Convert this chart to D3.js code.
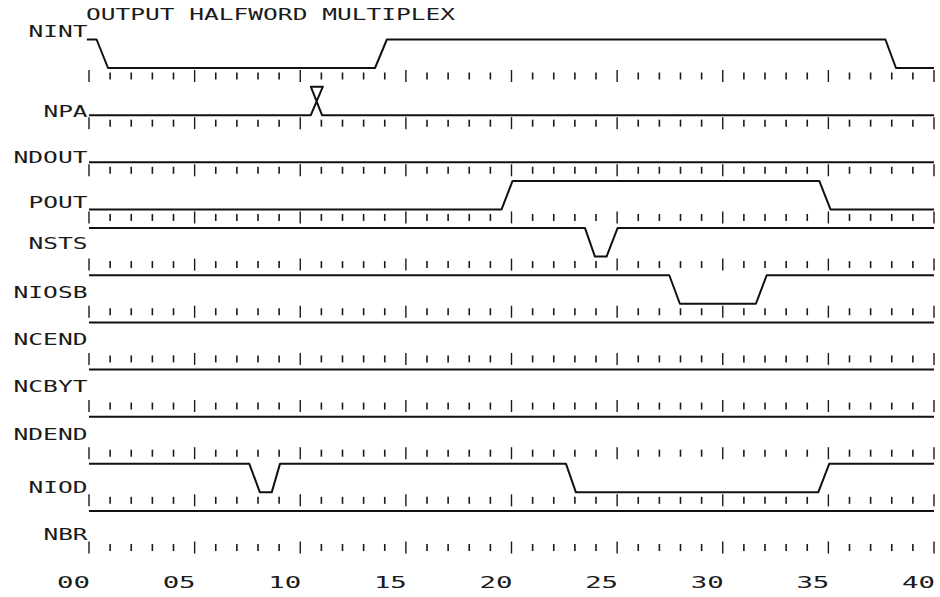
<!DOCTYPE html>
<html>
<head>
<meta charset="utf-8">
<script src="https://cdn.jsdelivr.net/npm/d3@7"></script>
<style>
  html, body { margin: 0; padding: 0; background: #fff; }
  svg { display: block; }
  text { font-family: "DejaVu Sans Mono", "Liberation Mono", monospace; fill: #1a1a1a; }
</style>
</head>
<body>
<svg id="chart" width="940" height="597"></svg>
<script>
// ---------------- data ----------------
const title = "OUTPUT HALFWORD MULTIPLEX";
const signals = ["NINT", "NPA", "NDOUT", "POUT", "NSTS", "NIOSB", "NCEND", "NCBYT", "NDEND", "NIOD", "NBR"];
const timeTicks = d3.range(0, 41);            // one tick per time unit
const timeLabels = ["00", "05", "10", "15", "20", "25", "30", "35", "40"];
const labelTimes = [0, 5, 10, 15, 20, 25, 30, 35, 40];

// waveforms: [time, level]  (1 = high, 0 = low)
const nint  = [[-0.1, 1], [0.36, 1], [0.9, 0], [13.54, 0], [14.1, 1], [37.7, 1], [38.2, 0], [40, 0]];
const npa   = [[0, 0], [10.5, 0], [11.07, 1], [10.5, 1], [11.03, 0], [40, 0]];
const ndout = [[0, 0], [40, 0]];
const pout  = [[0, 0], [19.53, 0], [20.05, 1], [34.57, 1], [35.1, 0], [40, 0]];
const nsts  = [[0, 1], [23.48, 1], [23.95, 0], [24.5, 0], [25.02, 1], [40, 1]];
const niosb = [[0, 1], [27.47, 1], [27.97, 0], [31.57, 0], [32.08, 1], [40, 1]];
const ncend = [[0, 1], [40, 1]];
const ncbyt = [[0, 1], [40, 1]];
const ndend = [[0, 1], [40, 1]];
const niod  = [[0, 1], [7.59, 1], [8.09, 0], [8.65, 0], [9.04, 1], [22.58, 1], [23.05, 0], [34.52, 0], [35.04, 1], [40, 1]];
const nbr   = [[0, 1], [40, 1]];
const waves = [nint, npa, ndout, pout, nsts, niosb, ncend, ncbyt, ndend, niod, nbr];

// ---------------- layout ----------------
const svg = d3.select("#chart");
const x = d3.scaleLinear().domain([0, 40]).range([89, 934]);
const row = d3.scalePoint().domain(signals).range([39.5, 511]);   // y of high level per row
const levelDrop = 28.5;                                          // high -> low distance
const y = (sig, lvl) => row(sig) + (lvl ? 0 : levelDrop);
// label baseline offsets relative to the row's high level
const labelDy = [-2.5, 30.5, 29, 27, 21, 23, 22.6, 22.5, 23.3, 29, 29];
const charPitch = 15;

// title
svg.append("text")
  .attr("x", 86).attr("y", 20)
  .attr("font-size", 16)
  .attr("textLength", 369).attr("lengthAdjust", "spacingAndGlyphs")
  .text(title);

signals.forEach((sig, i) => {
  const g = svg.append("g");
  const low = y(sig, 0);

  // tick row
  g.selectAll("line.tick").data(timeTicks).join("line")
    .attr("class", "tick")
    .attr("x1", d => x(d)).attr("x2", d => x(d))
    .attr("y1", d => low + (d % 5 === 0 ? 2 : 4.5))
    .attr("y2", d => low + (d % 5 === 0 ? 14 : 11.5))
    .attr("stroke", "#1a1a1a")
    .attr("stroke-width", d => d % 5 === 0 ? 1.4 : 1.6);

  // waveform
  const line = d3.line()
    .x(d => x(d[0]))
    .y(d => y(sig, d[1]))
    .curve(d3.curveLinear);
  g.append("path")
    .attr("d", line(waves[i]))
    .attr("fill", "none")
    .attr("stroke", "#111")
    .attr("stroke-width", 2)
    .attr("stroke-linejoin", "round");

  // label
  g.append("text")
    .attr("x", 87.5)
    .attr("y", row(sig) + labelDy[i])
    .attr("text-anchor", "end")
    .attr("font-size", 16)
    .attr("textLength", sig.length * charPitch - 1)
    .attr("lengthAdjust", "spacingAndGlyphs")
    .text(sig);
});

// time axis labels
svg.append("g").selectAll("text").data(timeLabels).join("text")
  .attr("x", (d, i) => x(labelTimes[i]) + 1)
  .attr("y", 588)
  .attr("text-anchor", "end")
  .attr("font-size", 15)
  .attr("textLength", 33)
  .attr("lengthAdjust", "spacingAndGlyphs")
  .text(d => d);
</script>
</body>
</html>
